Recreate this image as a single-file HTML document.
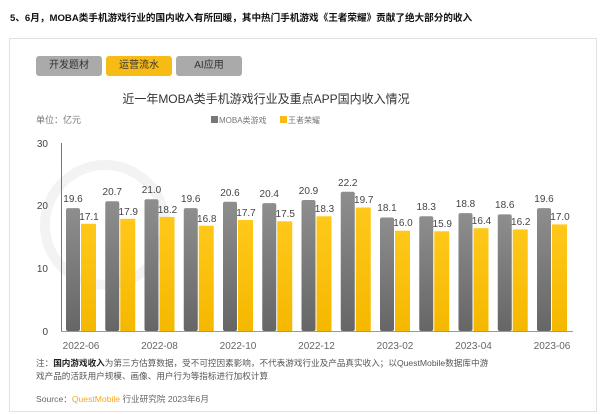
<!DOCTYPE html>
<html><head><meta charset="utf-8"><style>
body{margin:0;width:600px;height:414px;background:#fff;font-family:"Liberation Sans","Noto Sans CJK SC",sans-serif;overflow:hidden;position:relative}
.t{position:absolute;left:10px;top:10px;font-size:9.6px;font-weight:bold;color:#111;white-space:nowrap}
.card{position:absolute;left:9px;top:38px;width:586px;height:372px;border:1px solid #e2e2e2;background:#fff}
.tab{position:absolute;top:56px;height:20px;width:66px;border-radius:3px;background:#aaa;color:#333;font-size:10px;text-align:center;line-height:20px}
</style></head><body>
<div class="card"></div>
<div class="t">5、6月，MOBA类手机游戏行业的国内收入有所回暖，其中热门手机游戏《王者荣耀》贡献了绝大部分的收入</div>
<div class="tab" style="left:36px">开发题材</div>
<div class="tab" style="left:106px;background:#f7bb16">运营流水</div>
<div class="tab" style="left:176px">AI应用</div>
<svg width="600" height="414" style="position:absolute;left:0;top:0" font-family="Liberation Sans, Noto Sans CJK SC, sans-serif">
<defs>
<linearGradient id="g" x1="0" y1="0" x2="0" y2="1"><stop offset="0" stop-color="#8e8e8e"/><stop offset="1" stop-color="#666"/></linearGradient>
<linearGradient id="y" x1="0" y1="0" x2="0" y2="1"><stop offset="0" stop-color="#ffc81a"/><stop offset="1" stop-color="#f5b800"/></linearGradient>
</defs>
<circle cx="105" cy="225" r="60" fill="none" stroke="#f3f3f3" stroke-width="10"/>
<text x="266" y="103" font-size="12" fill="#333" text-anchor="middle">近一年MOBA类手机游戏行业及重点APP国内收入情况</text>
<text x="36" y="123" font-size="9" fill="#777">单位：亿元</text>
<rect x="211" y="116" width="7" height="7" fill="#777"/><text x="219" y="123" font-size="8" fill="#777">MOBA类游戏</text>
<rect x="280" y="116" width="7" height="7" fill="#f7bb16"/><text x="288" y="123" font-size="8" fill="#777">王者荣耀</text>
<g font-size="10" fill="#444" text-anchor="end">
<text x="48" y="147">30</text><text x="48" y="209">20</text><text x="48" y="272">10</text><text x="48" y="335">0</text></g>
<line x1="61.5" y1="143" x2="61.5" y2="332" stroke="#777"/>
<line x1="61" y1="331.5" x2="573" y2="331.5" stroke="#999"/>
<g fill="url(#g)">
<rect x="66" y="208.1" width="14" height="122.9" rx="2"/><rect x="105.25" y="201.2" width="14" height="129.8" rx="2"/><rect x="144.5" y="199.3" width="14" height="131.7" rx="2"/><rect x="183.75" y="208.1" width="14" height="122.9" rx="2"/><rect x="223" y="201.8" width="14" height="129.2" rx="2"/><rect x="262.25" y="203.1" width="14" height="127.9" rx="2"/><rect x="301.5" y="200" width="14" height="131" rx="2"/><rect x="340.75" y="191.8" width="14" height="139.2" rx="2"/><rect x="380" y="217.5" width="14" height="113.5" rx="2"/><rect x="419.25" y="216.3" width="14" height="114.7" rx="2"/><rect x="458.5" y="213.1" width="14" height="117.9" rx="2"/><rect x="497.75" y="214.4" width="14" height="116.6" rx="2"/><rect x="537" y="208.1" width="14" height="122.9" rx="2"/>
</g>
<g fill="url(#y)">
<rect x="81" y="223.8" width="15" height="107.2"/><rect x="120.25" y="218.8" width="15" height="112.2"/><rect x="159.5" y="216.9" width="15" height="114.1"/><rect x="198.75" y="225.7" width="15" height="105.3"/><rect x="238" y="220" width="15" height="111"/><rect x="277.25" y="221.3" width="15" height="109.7"/><rect x="316.5" y="216.3" width="15" height="114.7"/><rect x="355.75" y="207.5" width="15" height="123.5"/><rect x="395" y="230.7" width="15" height="100.3"/><rect x="434.25" y="231.3" width="15" height="99.7"/><rect x="473.5" y="228.2" width="15" height="102.8"/><rect x="512.75" y="229.4" width="15" height="101.6"/><rect x="552" y="224.4" width="15" height="106.6"/>
</g>
<g font-size="10" fill="#444" text-anchor="middle">
<text x="73" y="202">19.6</text><text x="112.25" y="195">20.7</text><text x="151.5" y="193">21.0</text><text x="190.75" y="202">19.6</text><text x="230" y="196">20.6</text><text x="269.25" y="197">20.4</text><text x="308.5" y="194">20.9</text><text x="347.75" y="186">22.2</text><text x="387" y="211">18.1</text><text x="426.25" y="210">18.3</text><text x="465.5" y="207">18.8</text><text x="504.75" y="208">18.6</text><text x="544" y="202">19.6</text>
<text x="89" y="220">17.1</text><text x="128.25" y="215">17.9</text><text x="167.5" y="213">18.2</text><text x="206.75" y="222">16.8</text><text x="246" y="216">17.7</text><text x="285.25" y="217">17.5</text><text x="324.5" y="212">18.3</text><text x="363.75" y="203">19.7</text><text x="403" y="226">16.0</text><text x="442.25" y="227">15.9</text><text x="481.5" y="224">16.4</text><text x="520.75" y="225">16.2</text><text x="560" y="220">17.0</text>
</g>
<g font-size="10" fill="#666" text-anchor="middle">
<text x="81" y="349">2022-06</text><text x="159.5" y="349">2022-08</text><text x="238" y="349">2022-10</text><text x="316.5" y="349">2022-12</text><text x="395" y="349">2023-02</text><text x="473.5" y="349">2023-04</text><text x="552" y="349">2023-06</text>
</g>
<text x="36" y="366" font-size="8.6" fill="#555">注：<tspan font-weight="bold" fill="#222">国内游戏收入</tspan>为第三方估算数据，受不可控因素影响，不代表游戏行业及产品真实收入；以QuestMobile数据库中游</text>
<text x="36" y="379" font-size="8.6" fill="#555">戏产品的活跃用户规模、画像、用户行为等指标进行加权计算</text>
<text x="36" y="402" font-size="8.6" fill="#666">Source：<tspan fill="#f5a623">QuestMobile</tspan> 行业研究院 2023年6月</text>
</svg>
</body></html>
